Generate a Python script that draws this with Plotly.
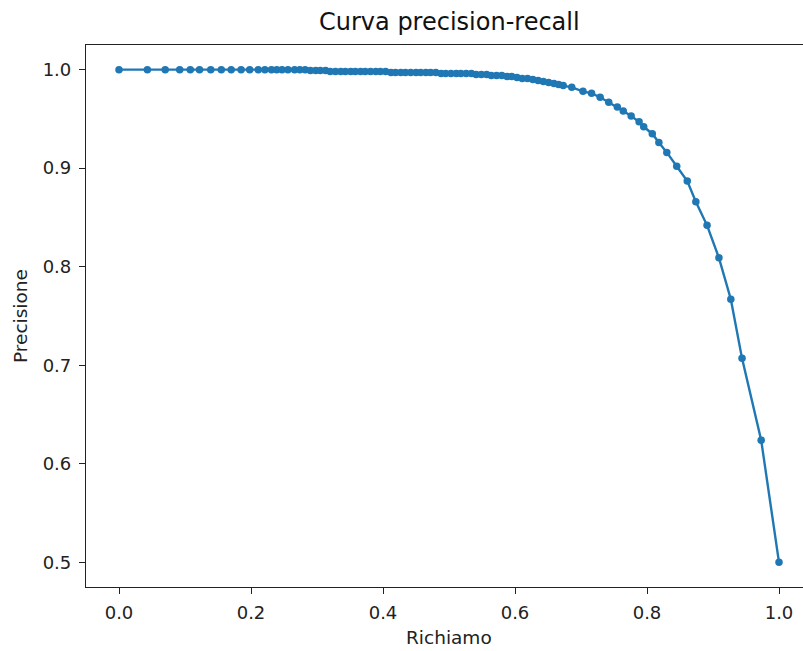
import plotly.graph_objects as go

recall = [0.000, 0.043, 0.070, 0.092, 0.108, 0.122, 0.139, 0.155, 0.170, 0.185, 0.198, 0.211, 0.221, 0.231,
          0.239, 0.247, 0.256, 0.266, 0.274, 0.282,
          0.290, 0.298, 0.305, 0.313, 0.320, 0.328, 0.336, 0.343, 0.351, 0.358, 0.366, 0.373, 0.381, 0.389,
          0.396, 0.404, 0.412, 0.419, 0.427, 0.434, 0.442, 0.450, 0.457, 0.465, 0.472, 0.480, 0.488, 0.495,
          0.503, 0.511, 0.518, 0.526, 0.534, 0.541, 0.549, 0.557, 0.564, 0.572, 0.580, 0.588, 0.595, 0.603,
          0.611, 0.619, 0.627, 0.635, 0.643, 0.651, 0.659, 0.666, 0.673,
          0.686, 0.703, 0.716, 0.729, 0.742, 0.755, 0.764, 0.776, 0.788, 0.795, 0.808, 0.818, 0.830, 0.845,
          0.861, 0.874, 0.891, 0.909, 0.927, 0.944, 0.973, 1.000]

precision = [1.0, 1.0, 1.0, 1.0, 1.0, 1.0, 1.0, 1.0, 1.0, 1.0, 1.0, 1.0, 1.0, 1.0,
             1.0, 1.0, 1.0, 1.0, 1.0, 1.0,
             0.999, 0.999, 0.999, 0.999, 0.998, 0.998, 0.998, 0.998, 0.998, 0.998, 0.998, 0.998, 0.998, 0.998,
             0.998, 0.998, 0.997, 0.997, 0.997, 0.997, 0.997, 0.997, 0.997, 0.997, 0.997, 0.997, 0.996, 0.996,
             0.996, 0.996, 0.996, 0.996, 0.996, 0.995, 0.995, 0.995, 0.994, 0.994, 0.994, 0.993, 0.993, 0.992,
             0.991, 0.991, 0.990, 0.989, 0.988, 0.987, 0.986, 0.985, 0.984,
             0.982, 0.978, 0.976, 0.972, 0.967, 0.962, 0.958, 0.953, 0.947, 0.942, 0.935, 0.926, 0.916, 0.902,
             0.887, 0.866, 0.842, 0.809, 0.767, 0.707, 0.624, 0.500]

assert len(recall) == len(precision)

x_ticks = [0.0, 0.2, 0.4, 0.6, 0.8, 1.0]
y_ticks = [0.5, 0.6, 0.7, 0.8, 0.9, 1.0]

title_text = "Curva precision-recall"
x_title = "Richiamo"
y_title = "Precisione"

W, H = 803, 651
L, R, T, B = 86, 0, 45, 64
axes_center_px = 449
xc = (axes_center_px - L) / (W - L - R)

font = "DejaVu Sans"
fig = go.Figure()
fig.add_trace(go.Scatter(
    x=recall, y=precision, mode="lines+markers",
    line=dict(color="#1f77b4", width=2.4),
    marker=dict(color="#1f77b4", size=7.5),
    showlegend=False,
))

axis_common = dict(
    showgrid=False, zeroline=False, showline=True, linecolor="#222222", linewidth=1.2,
    mirror=True, ticks="outside", ticklen=6, tickwidth=1.2, tickcolor="#222222",
    tickfont=dict(family=font, size=18, color="#222222"),
)

fig.update_layout(
    width=W, height=H,
    margin=dict(l=L, r=R, t=T, b=B),
    paper_bgcolor="white", plot_bgcolor="white",
    xaxis=dict(range=[-0.05, -0.05 + (W - L - R) / 660.0], tickvals=x_ticks, tickformat=".1f",
               ticklabelstandoff=3, **axis_common),
    yaxis=dict(range=[0.475, 1.025], tickvals=y_ticks, tickformat=".1f",
               ticklabelstandoff=4, **axis_common),
    annotations=[
        dict(text=title_text, xref="paper", yref="paper", x=xc, y=1, yshift=23,
             xanchor="center", yanchor="middle", showarrow=False,
             font=dict(family=font, size=24, color="#111111")),
        dict(text=x_title, xref="paper", yref="paper", x=xc, y=0, yshift=-50,
             xanchor="center", yanchor="middle", showarrow=False,
             font=dict(family=font, size=18.5, color="#222222")),
        dict(text=y_title, xref="paper", yref="paper", x=0, xshift=-66, y=0.5,
             xanchor="center", yanchor="middle", textangle=-90, showarrow=False,
             font=dict(family=font, size=18.5, color="#222222")),
    ],
)

fig.write_html("out.html")
